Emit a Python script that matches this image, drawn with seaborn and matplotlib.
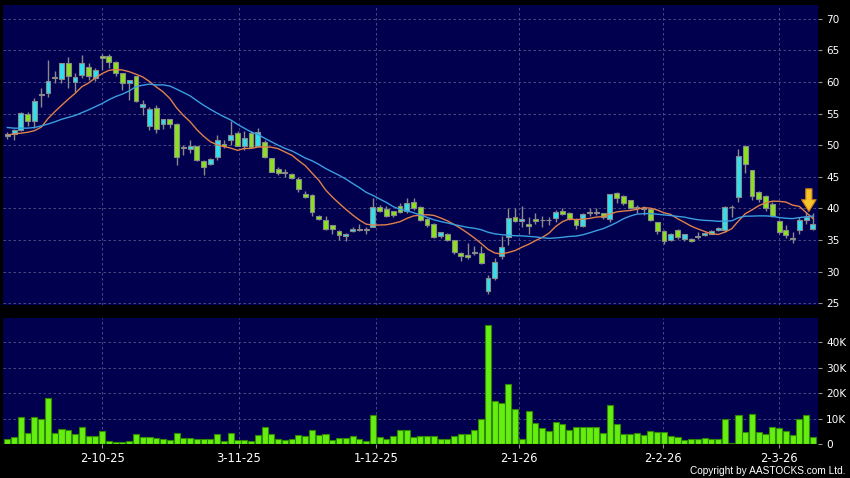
import numpy as np
import pandas as pd
import matplotlib
matplotlib.use('Agg')
import matplotlib.pyplot as plt
import seaborn as sns

# daily candles (index 0 = first visible day)
opens = [51.4, 51.8, 52.4, 55.0, 53.9, 58.0, 58.2, 60.7, 60.5, 63.0,
         60.0, 61.1, 62.4, 60.6, 64.2, 64.2, 63.2, 61.4, 59.8, 60.9,
         56.0, 53.0, 55.85, 53.4, 54.1, 53.4, 49.6, 49.4, 49.8, 47.55,
         47.0, 48.1, 50.2, 50.9, 52.0, 49.9, 52.0, 49.9, 50.55, 47.9,
         46.2, 45.7, 45.4, 44.7, 42.3, 42.1, 38.8, 38.15, 37.3, 36.4,
         35.7, 36.4, 36.7, 36.6, 37.0, 40.2, 39.85, 39.55, 40.4, 39.6,
         41.05, 40.2, 38.3, 37.6, 35.6, 35.9, 35.0, 33.0, 32.6, 32.9,
         33.0, 26.95, 28.9, 32.4, 35.45, 38.7, 38.0, 37.5, 38.3, 38.15,
         38.15, 38.4, 39.6, 39.25, 38.35, 37.25, 39.3, 39.35, 39.2, 38.3,
         42.4, 42.0, 41.3, 40.15, 39.95, 39.85, 37.8, 36.4, 35.0, 36.6,
         35.1, 35.1, 35.6, 35.8, 36.0, 36.55, 36.5, 40.2, 41.8, 49.9,
         46.0, 42.6, 42.0, 40.7, 38.0, 36.6, 35.1, 36.55, 38.15, 36.7]
highs = [52.1, 52.6, 55.2, 55.3, 57.4, 59.0, 63.5, 61.7, 63.0, 63.9,
         61.4, 64.3, 63.0, 62.2, 64.4, 64.4, 63.3, 61.5, 60.4, 61.0,
         57.2, 56.1, 56.4, 54.2, 54.2, 53.5, 50.0, 50.8, 49.9, 47.6,
         48.0, 51.6, 50.8, 53.8, 52.2, 52.3, 52.3, 52.7, 50.8, 48.0,
         46.5, 46.2, 45.6, 45.0, 42.8, 42.2, 39.0, 38.8, 37.4, 36.5,
         36.1, 37.0, 37.6, 37.1, 41.6, 40.6, 40.3, 39.6, 40.8, 41.6,
         41.6, 40.3, 38.5, 37.7, 36.3, 36.1, 35.0, 33.1, 34.45, 34.0,
         34.0, 29.5, 32.2, 35.7, 40.0, 40.0, 40.3, 38.6, 39.3, 38.8,
         38.6, 39.8, 40.0, 39.5, 38.5, 39.3, 40.0, 40.1, 39.3, 42.3,
         42.6, 42.1, 41.4, 40.5, 40.3, 40.1, 37.9, 36.5, 36.1, 36.8,
         36.0, 35.3, 36.2, 36.3, 36.5, 37.1, 40.4, 40.5, 49.35, 49.95,
         46.0, 42.7, 42.1, 41.0, 38.1, 37.3, 36.3, 38.6, 39.4, 39.2]
lows = [51.0, 50.8, 52.2, 53.0, 52.7, 56.1, 57.6, 59.8, 59.8, 59.0,
        58.5, 60.6, 60.4, 60.1, 61.9, 62.2, 60.9, 58.75, 57.2, 56.9,
        54.8, 52.4, 51.9, 52.5, 52.8, 46.9, 48.4, 48.8, 47.5, 45.3,
        46.8, 47.7, 49.5, 50.0, 49.8, 49.2, 49.5, 49.8, 47.9, 45.7,
        45.3, 45.0, 44.6, 42.65, 41.6, 38.8, 38.1, 36.6, 35.9, 35.0,
        34.9, 36.2, 36.4, 36.0, 37.0, 39.4, 38.6, 38.6, 39.2, 39.3,
        39.8, 38.0, 37.1, 35.3, 35.3, 34.8, 32.8, 31.65, 32.0, 32.6,
        31.2, 26.4, 28.6, 32.0, 34.2, 37.8, 37.0, 36.0, 37.5, 37.0,
        37.3, 37.8, 38.9, 38.1, 36.8, 37.0, 38.8, 38.9, 38.3, 37.8,
        40.9, 40.5, 39.9, 39.3, 39.0, 38.0, 36.0, 34.4, 34.8, 35.2,
        34.9, 34.6, 35.1, 35.6, 35.9, 36.4, 36.3, 38.7, 41.05, 45.65,
        41.4, 41.0, 39.6, 38.6, 36.0, 35.3, 34.5, 36.0, 37.5, 36.5]
closes = [51.7, 52.4, 55.1, 53.8, 57.0, 58.1, 60.1, 60.7, 63.0, 61.0,
          60.8, 63.0, 61.0, 61.9, 63.8, 63.2, 61.5, 59.9, 60.3, 57.0,
          56.5, 55.7, 52.5, 54.1, 53.4, 48.2, 49.6, 49.9, 47.7, 46.5,
          47.8, 50.9, 49.8, 51.6, 49.9, 51.1, 49.7, 52.1, 48.1, 45.8,
          45.55, 45.7, 44.75, 43.1, 41.75, 39.5, 38.3, 36.8, 36.8, 35.8,
          36.0, 36.8, 36.7, 36.6, 40.2, 39.6, 38.8, 38.9, 39.5, 40.9,
          40.0, 38.15, 37.3, 35.5, 36.2, 35.0, 33.05, 32.5, 32.25, 33.05,
          31.4, 28.9, 31.55, 33.9, 38.55, 38.05, 38.3, 37.15, 38.0, 38.15,
          38.15, 39.5, 39.15, 38.3, 37.3, 39.05, 39.3, 39.35, 38.6, 42.25,
          41.6, 40.8, 40.1, 40.15, 39.95, 38.2, 36.45, 34.9, 36.0, 35.5,
          35.9, 34.8, 35.6, 36.15, 36.4, 36.95, 40.2, 40.2, 48.3, 47.0,
          42.0, 41.5, 40.0, 38.8, 36.2, 35.8, 35.35, 38.15, 38.6, 37.6]
# volume in thousands
volumes = [2.0, 2.6, 10.8, 4.4, 10.6, 9.8, 18.3, 4.4, 6.0, 5.4,
           3.8, 6.8, 3.1, 3.1, 5.0, 1.2, 0.6, 0.9, 1.0, 3.9,
           2.9, 2.7, 2.4, 1.8, 1.4, 4.4, 2.4, 2.2, 1.8, 2.1,
           2.0, 3.8, 1.3, 4.2, 1.6, 1.6, 1.0, 3.4, 6.8, 3.8,
           1.8, 1.4, 2.0, 3.4, 3.3, 5.4, 3.4, 4.1, 1.7, 2.2,
           2.5, 3.0, 1.8, 1.2, 11.6, 2.6, 2.1, 3.1, 5.4, 5.4,
           2.9, 3.3, 3.0, 3.2, 2.1, 2.1, 3.0, 4.1, 3.8, 5.4,
           9.7, 46.7, 16.8, 16.3, 23.7, 13.6, 2.1, 12.9, 8.3, 6.2,
           5.1, 8.8, 7.9, 5.5, 6.6, 6.7, 6.8, 6.8, 4.5, 15.3,
           7.8, 3.9, 3.8, 4.2, 3.4, 5.3, 4.9, 4.6, 3.0, 2.6,
           1.7, 2.1, 2.1, 2.2, 2.1, 2.0, 9.7, 0.5, 11.3, 4.7,
           12.0, 4.6, 3.8, 6.7, 6.2, 5.3, 3.7, 9.7, 11.3, 2.8]
# moving averages before a full window exists
ma10_head = [51.6, 51.8, 51.9, 52.05, 52.3, 52.85, 54.2, 55.3, 56.3]
ma20_head = [52.8, 52.7, 52.7, 52.7, 52.8, 53.05, 53.35, 53.7, 54.1, 54.4,
             54.7, 55.15, 55.6, 56.1, 56.6, 57.2, 57.7, 58.1, 58.6]

date_labels = ['2-10-25', '3-11-25', '1-12-25', '2-1-26', '2-2-26', '2-3-26']
date_pos = [14, 34.2, 54.5, 75.6, 96.9, 114]
signal_day = 118.4

df = pd.DataFrame({'open': opens, 'high': highs, 'low': lows,
                   'close': closes, 'vol': volumes})
df['idx'] = np.arange(len(df))
df['ma10'] = df['close'].rolling(10).mean()
df.loc[:len(ma10_head) - 1, 'ma10'] = ma10_head
df['ma20'] = df['close'].rolling(20).mean()
df.loc[:len(ma20_head) - 1, 'ma20'] = ma20_head

BG = '#00004e'
GRID = '#55558a'
EDGE = '#8a8a8a'

fig = plt.figure(figsize=(8.5, 4.78), dpi=100, facecolor='black')
ax = fig.add_axes([3 / 850, 1 - 305 / 478, 815 / 850, 300 / 478])
axv = fig.add_axes([3 / 850, 1 - 444 / 478, 815 / 850, 126 / 478])

# candles
diff = df['close'] - df['open']
colors = np.where(diff > 0.05, '#2ee0f0', np.where(diff < -0.05, '#8ae21e', EDGE))
body_h = np.maximum(diff.abs(), 0.12)
body_bot = np.minimum(df['open'], df['close'])
body_bot = np.where(diff.abs() < 0.12, df['open'] - 0.06, body_bot)
ax.vlines(df['idx'], df['low'], df['high'], color=EDGE, lw=1, zorder=3)
ax.bar(df['idx'], body_h, bottom=body_bot, width=0.72, color=colors,
       edgecolor=EDGE, linewidth=0.8, zorder=4)

sns.lineplot(data=df, x='idx', y='ma10', color='#e0804a', lw=1, ax=ax, zorder=5)
sns.lineplot(data=df, x='idx', y='ma20', color='#3a9ee0', lw=1, ax=ax, zorder=5)

ax.annotate('', xy=(signal_day, 39.5), xytext=(signal_day, 43.1),
            arrowprops=dict(arrowstyle='simple,head_length=0.85,head_width=1.05,tail_width=0.45',
                            fc='#f6c42a', ec='#c87a10', lw=0.8,
                            shrinkA=0, shrinkB=0), zorder=6)

sns.barplot(x=df['idx'], y=df['vol'], native_scale=True, color='#66ee11',
            saturation=1, edgecolor='#2f8a00', linewidth=0.8, width=0.9,
            errorbar=None, ax=axv)

for a in (ax, axv):
    a.set_facecolor(BG)
    for s in a.spines.values():
        s.set_visible(False)
    a.set_xlim(-0.64, 119.75)
    a.set_xticks(date_pos)
    a.yaxis.tick_right()
    a.grid(True, color=GRID, ls=(0, (3, 3)), lw=0.6)
    a.set_axisbelow(True)
    a.set_xlabel('')
    a.set_ylabel('')
    a.tick_params(axis='y', colors='#909090', labelcolor='white',
                  length=3, width=0.8, pad=3, labelsize=7.6)

ax.set_ylim(24.7, 72.2)
ax.set_yticks(range(25, 71, 5))
ax.tick_params(axis='x', length=0, labelbottom=False)

axv.set_ylim(0, 49.6)
axv.set_yticks([0, 10, 20, 30, 40])
axv.set_yticklabels(['0', '10K', '20K', '30K', '40K'])
axv.set_xticklabels(date_labels)
axv.tick_params(axis='x', colors='#909090', labelcolor='white',
                length=3, width=0.8, pad=3, labelsize=8.3)

fig.text(846 / 850, 1 - 471.5 / 478, 'Copyright by AASTOCKS.com Ltd.',
         color='white', fontsize=7.3, ha='right', va='center',
         family='Liberation Sans')

fig.savefig('out.png', dpi=100, facecolor='black')
